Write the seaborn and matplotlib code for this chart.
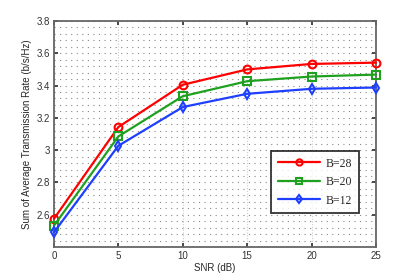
import matplotlib
matplotlib.use("Agg")
import matplotlib.pyplot as plt
import seaborn as sns
import pandas as pd
from matplotlib.ticker import MultipleLocator
from matplotlib.lines import Line2D

snr = [0, 5, 10, 15, 20, 25]
b28 = [2.575, 3.143, 3.405, 3.500, 3.534, 3.542]
b20 = [2.532, 3.085, 3.334, 3.427, 3.456, 3.468]
b12 = [2.491, 3.027, 3.267, 3.349, 3.380, 3.388]
labels = ["B=28", "B=20", "B=12"]
colors = ["#ff0000", "#1fa01f", "#1f3fff"]
markers = ["o", "s", "d"]
yticks = [2.6, 2.8, 3.0, 3.2, 3.4, 3.6, 3.8]
yticklabels = ["2.6", "2.8", "3", "3.2", "3.4", "3.6", "3.8"]

rows = []
for lab, vals in zip(labels, [b28, b20, b12]):
    for x, y in zip(snr, vals):
        rows.append({"SNR": x, "Rate": y, "B": lab})
df = pd.DataFrame(rows)

sns.set_theme(style="white")
plt.rcParams['font.family'] = ['Liberation Sans', 'DejaVu Sans']

fig = plt.figure(figsize=(4.15, 2.78), dpi=100)
ax = fig.add_axes([0.130, 0.1115, 0.776, 0.813])

sns.lineplot(data=df, x="SNR", y="Rate", hue="B", style="B",
             palette=dict(zip(labels, colors)),
             markers=dict(zip(labels, markers)), dashes=False,
             linewidth=1.6, markersize=5.6, markeredgewidth=1.5,
             ax=ax, legend=False, zorder=3)
for line in ax.lines:
    line.set_markerfacecolor('none')
    line.set_markeredgecolor(line.get_color())
    line.set_clip_on(False)

ax.set_xlim(0, 25)
ax.set_ylim(2.4, 3.8)
ax.xaxis.set_major_locator(MultipleLocator(5))
ax.yaxis.set_minor_locator(MultipleLocator(0.04))
ax.set_yticks(yticks)
ax.set_yticklabels(yticklabels)
ax.grid(which='major', axis='x', linestyle=(0, (1, 1.5)), color='#cccccc', linewidth=0.8)
ax.grid(which='both', axis='y', linestyle=(0, (1, 4)), color='#888888', linewidth=0.8)
ax.tick_params(axis='both', which='major', direction='in', length=3, labelsize=7, pad=3,
               colors='#333333', top=True, right=True, bottom=True, left=True)
ax.tick_params(axis='both', which='minor', length=0)
for s in ax.spines.values():
    s.set_color('#666666')
    s.set_linewidth(1.3)
ax.set_xlabel("SNR (dB)", fontsize=7, labelpad=1)
ax.set_ylabel("Sum of Average Transmission Rate (b/s/Hz)", fontsize=7, labelpad=3)

handles = [Line2D([], [], color=c, marker=m, markerfacecolor='none', markersize=4.5,
                  markeredgewidth=1.5, linewidth=1.6) for c, m in zip(colors, markers)]
leg = ax.legend(handles, labels, loc='lower right', bbox_to_anchor=(0.947, 0.15),
                prop={'family': 'Liberation Serif', 'size': 8.5}, frameon=True,
                fancybox=False, edgecolor='black', handlelength=3.6, handletextpad=0.5,
                labelspacing=0.55, borderpad=0.55, borderaxespad=0)
leg.get_frame().set_linewidth(1.3)
leg.set_zorder(5)

fig.savefig("out.png", dpi=100)
